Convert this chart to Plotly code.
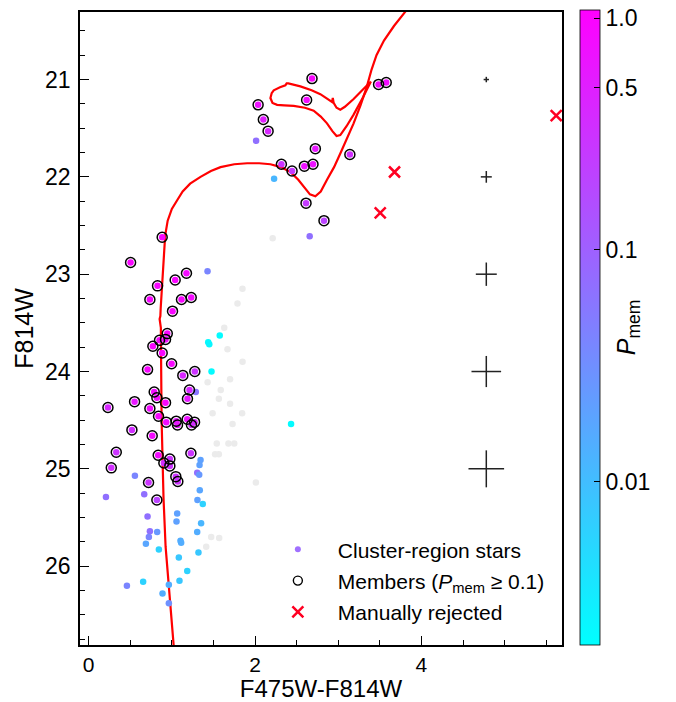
import numpy as np
import plotly.graph_objects as go

# ---------------- data ----------------
# cluster-region stars with membership probability (colour, magnitude, Pmem)
star_color = [2.685, 3.485, 3.577, 2.037, 2.62, 2.10, 2.157, 2.725, 3.14, 2.317, 2.445, 2.593, 2.697, 2.613, 2.829,
              0.884, 0.504, 1.176, 1.04, 0.828, 0.736, 1.116, 1.233, 1.008, 0.945, 0.852, 0.924, 0.772, 0.884, 0.997,
              0.708, 1.132, 1.276, 0.788, 0.82, 0.924, 1.212, 1.188, 0.552, 0.232, 0.736, 0.84, 0.933, 1.053, 1.068,
              1.185, 1.273, 1.236, 0.52, 0.764, 0.332, 0.836, 1.229, 0.976, 0.904, 0.976, 0.272, 1.048, 1.072, 0.72,
              0.82,
              2.013, 2.229, 2.657, 1.429, 1.576, 1.437, 1.45, 1.477, 1.288, 2.433, 1.345, 1.333, 1.305, 1.329, 0.556,
              1.336, 0.208, 0.668, 1.308, 1.372, 1.064, 1.056, 0.708, 0.736, 0.824, 0.724, 0.688, 0.844, 1.352, 1.305,
              1.104, 1.112, 1.32, 1.084, 1.185, 1.092, 0.655, 0.46, 0.964, 0.888, 0.964]
star_mag = [20.99, 21.05, 21.03, 21.26, 21.21, 21.41, 21.53, 21.71, 21.77, 21.87, 21.94, 21.89, 21.87, 22.27, 22.45,
            22.62, 22.88, 22.99, 23.06, 23.12, 23.26, 23.26, 23.24, 23.38, 23.61, 23.68, 23.67, 23.74, 23.81, 23.92,
            23.98, 24.04, 24.00, 24.21, 24.27, 24.32, 24.19, 24.28, 24.31, 24.37, 24.38, 24.46, 24.52, 24.51, 24.55,
            24.49, 24.52, 24.55, 24.60, 24.66, 24.83, 24.86, 24.84, 24.90, 24.94, 24.97, 24.99, 25.08, 25.13, 25.14,
            25.32,
            21.63, 22.02, 22.61, 22.97, 23.63, 23.70, 23.72, 24.00, 24.21, 24.54, 24.91, 24.96, 25.04, 25.06, 25.07,
            25.22, 25.29, 25.26, 25.32, 25.36, 25.46, 25.54, 25.49, 25.64, 25.65, 25.70, 25.77, 25.83, 25.56, 25.65,
            25.74, 25.76, 25.86, 25.91, 26.05, 26.15, 26.16, 26.20, 26.19, 26.28, 26.38]
star_pmem = [0.9, 0.8, 0.8, 0.7, 0.8, 0.5, 0.4, 0.6, 0.35, 0.3, 0.25, 0.7, 0.7, 0.25, 0.2,
             0.9, 0.9, 0.8, 0.9, 0.9, 0.9, 0.9, 0.8, 0.9, 0.9, 0.9, 0.8, 0.9, 0.9, 0.9,
             0.9, 0.4, 0.3, 0.8, 0.8, 0.9, 0.4, 0.6, 0.6, 0.4, 0.8, 0.9, 0.8, 0.6, 0.6,
             0.7, 0.4, 0.35, 0.35, 0.8, 0.3, 0.8, 0.3, 0.3, 0.35, 0.3, 0.35, 0.3, 0.3, 0.3,
             0.2,
             0.07, 0.012, 0.07, 0.04, 0.0022, 0.0022, 0.0025, 0.0022, 0.06, 0.0022, 0.02, 0.02, 0.07, 0.025, 0.04,
             0.018, 0.07, 0.07, 0.02, 0.006, 0.02, 0.02, 0.07, 0.07, 0.025, 0.04, 0.018, 0.006, 0.012, 0.015,
             0.015, 0.015, 0.008, 0.008, 0.006, 0.008, 0.006, 0.04, 0.015, 0.015, 0.03]

# stars with negligible membership (grey)
low_color = [2.212, 1.849, 1.789, 1.63, 1.669, 1.85, 1.43, 1.70, 1.588, 1.565, 1.70, 1.49, 1.845, 1.73,
             1.54, 1.68, 1.75, 1.52, 1.565, 2.01, 1.473, 1.569, 1.413]
low_mag = [22.63, 23.15, 23.30, 23.55, 23.77, 23.90, 24.11, 24.08, 24.19, 24.28, 24.33, 24.43, 24.43, 24.54,
           24.74, 24.74, 24.74, 24.85, 24.85, 25.14, 25.70, 25.71, 25.80]

# manually rejected stars
rej_color = [3.677, 3.505, 5.62]
rej_mag = [21.95, 22.37, 21.37]

# isochrone: MS + SGB + RGB
iso_color = [1.03, 1.005, 0.96, 0.925, 0.90, 0.885, 0.877, 0.872, 0.868, 0.853, 0.862, 0.866, 0.876, 0.885,
             0.90, 0.92, 0.95, 1.0, 1.064, 1.13, 1.22, 1.345, 1.47, 1.585, 1.75, 1.905, 2.05, 2.185, 2.31,
             2.425, 2.52, 2.585, 2.66, 2.725, 2.79, 2.865, 2.95, 3.025, 3.10, 3.185, 3.27, 3.345, 3.40, 3.46,
             3.55, 3.67, 3.80, 3.90]
iso_mag = [26.9, 26.65, 26.2, 25.8, 25.3, 24.9, 24.5, 24.0, 23.55, 23.46, 23.43, 23.35, 23.2, 23.0,
           22.8, 22.6, 22.45, 22.33, 22.24, 22.15, 22.07, 22.0, 21.94, 21.9, 21.87, 21.86, 21.86, 21.87, 21.9,
           21.95, 22.03, 22.1, 22.18, 22.2, 22.15, 22.03, 21.9, 21.76, 21.61, 21.45, 21.26, 21.07, 20.9, 20.75,
           20.6, 20.45, 20.31, 20.2]
# isochrone: core-He-burning loop
loop_color = [3.393, 3.30, 3.185, 3.10, 3.025, 2.98, 2.93, 2.865, 2.79, 2.705, 2.60, 2.465, 2.35, 2.265, 2.21,
              2.185, 2.20, 2.225, 2.30, 2.365, 2.38, 2.40, 2.545, 2.68, 2.785, 2.88, 2.925, 2.935, 2.945, 2.98,
              3.025, 3.08, 3.185, 3.30, 3.393]
loop_mag = [21.02, 21.18, 21.36, 21.48, 21.57, 21.58, 21.53, 21.45, 21.38, 21.32, 21.29, 21.27, 21.265, 21.26, 21.24,
            21.19, 21.14, 21.11, 21.08, 21.06, 21.04, 21.04, 21.07, 21.11, 21.15, 21.20, 21.23, 21.19, 21.24, 21.29,
            21.31, 21.28, 21.20, 21.10, 21.02]

# typical photometric errors
err_color_pos = [4.78, 4.78, 4.78, 4.78, 4.78]
err_mag_pos = [21, 22, 23, 24, 25]
err_color_sig = [0.032, 0.066, 0.126, 0.178, 0.214]
err_mag_sig = [0.028, 0.06, 0.12, 0.16, 0.19]

# colour-bar ticks
cbar_major = [1.0, 0.5, 0.1, 0.01]
cbar_major_text = ["1.0", "0.5", "0.1", "0.01"]
cbar_minor = [0.2, 0.3, 0.4, 0.6, 0.7, 0.8, 0.9,
              0.02, 0.03, 0.04, 0.05, 0.06, 0.07, 0.08, 0.09,
              0.003, 0.004, 0.005, 0.006, 0.007, 0.008, 0.009]

# ---------------- figure ----------------
FONT = "Arial, Liberation Sans, sans-serif"
LOGMIN = -2.703
LOGMAX = 0.0345
W, H = 676, 702
ML, MR, MT, MB = 80, 114, 12, 57
PW, PH = W - ML - MR, H - MT - MB
CB_LEFT_PX, CB_THICK, CB_LEN = 580, 20, 635

fig = go.Figure()

fig.add_trace(go.Scatter(x=iso_color, y=iso_mag, mode="lines",
                         line=dict(color="#ff0000", width=2.2), showlegend=False, hoverinfo="skip"))
fig.add_trace(go.Scatter(x=loop_color, y=loop_mag, mode="lines",
                         line=dict(color="#ff0000", width=2.2), showlegend=False, hoverinfo="skip"))

fig.add_trace(go.Scatter(x=low_color, y=low_mag, mode="markers",
                         marker=dict(color="#ebebeb", size=6.5, line=dict(width=0)), showlegend=False))

fig.add_trace(go.Scatter(
    x=star_color, y=star_mag, mode="markers",
    marker=dict(color=np.log10(star_pmem), cmin=LOGMIN, cmax=LOGMAX,
                colorscale=[[0, "#00ffff"], [1, "#ff00ff"]], size=6.5, line=dict(width=0),
                colorbar=dict(
                    thickness=CB_THICK, thicknessmode="pixels",
                    len=CB_LEN, lenmode="pixels",
                    x=(CB_LEFT_PX - ML) / PW, xanchor="left", xpad=0,
                    y=0, yanchor="bottom", ypad=0,
                    outlinewidth=0.8, outlinecolor="black",
                    tickmode="array", tickvals=[float(np.log10(v)) for v in cbar_major],
                    ticktext=cbar_major_text,
                    ticks="inside", ticklen=6, tickwidth=1, tickcolor="black",
                    tickfont=dict(size=23, color="black", family=FONT),
                    title=dict(text="<i>P</i><sub>mem</sub>", side="right",
                               font=dict(size=25, color="black", family=FONT)),
                )),
    showlegend=False))

mem_x = [c for c, p in zip(star_color, star_pmem) if p >= 0.1]
mem_y = [m for m, p in zip(star_mag, star_pmem) if p >= 0.1]
fig.add_trace(go.Scatter(x=mem_x, y=mem_y, mode="markers",
                         marker=dict(symbol="circle-open", size=10, color="black", line=dict(width=1.5)),
                         showlegend=False))

fig.add_trace(go.Scatter(x=rej_color, y=rej_mag, mode="markers",
                         marker=dict(symbol="x-thin", size=11, line=dict(color="#ff0022", width=2.5)),
                         showlegend=False))

fig.add_trace(go.Scatter(x=err_color_pos, y=err_mag_pos, mode="markers",
                         marker=dict(size=0.1, color="rgba(0,0,0,0)"),
                         error_x=dict(type="data", array=err_color_sig, width=0, thickness=1.5, color="#222"),
                         error_y=dict(type="data", array=err_mag_sig, width=0, thickness=1.5, color="#222"),
                         showlegend=False, hoverinfo="skip"))

# legend entries
fig.add_trace(go.Scatter(x=[None], y=[None], mode="markers", name="Cluster-region stars", legendgroup="a",
                         marker=dict(color="#a070ff", size=6)))
fig.add_trace(go.Scatter(x=[None], y=[None], mode="markers", name="Members (<i>P</i><sub>mem</sub> ≥ 0.1)",
                         legendgroup="b",
                         marker=dict(symbol="circle-open", size=9, color="black", line=dict(width=1.4))))
fig.add_trace(go.Scatter(x=[None], y=[None], mode="markers", name="Manually rejected", legendgroup="c",
                         marker=dict(symbol="x-thin", size=11, line=dict(color="#ff0022", width=2.5))))

# minor ticks of the logarithmic colour bar
cb_right = (CB_LEFT_PX + CB_THICK - ML) / PW
shapes = []
for v in cbar_minor:
    yp = (np.log10(v) - LOGMIN) / (LOGMAX - LOGMIN) * CB_LEN / PH
    shapes.append(dict(type="line", xref="paper", yref="paper",
                       x0=cb_right - 3.5 / PW, x1=cb_right, y0=yp, y1=yp,
                       line=dict(color="black", width=1)))

axis_common = dict(showline=True, linecolor="black", linewidth=1.5, mirror=True,
                   ticks="inside", ticklen=9, tickwidth=1.3, tickcolor="black",
                   showgrid=False, zeroline=False, automargin=False)

fig.update_layout(
    width=W, height=H,
    margin=dict(l=ML, r=MR, t=MT, b=MB),
    plot_bgcolor="white", paper_bgcolor="white",
    font=dict(family=FONT, color="black"),
    shapes=shapes,
    xaxis=dict(range=[-0.104, 5.69], tickmode="linear", tick0=0, dtick=2,
               minor=dict(ticks="inside", ticklen=5, tickwidth=1, tickcolor="black", dtick=0.5, tick0=0,
                          showgrid=False),
               tickfont=dict(size=21, color="black", family=FONT),
               title=dict(text="F475W-F814W", font=dict(size=24, color="black", family=FONT), standoff=9),
               **axis_common),
    yaxis=dict(range=[26.81, 20.306], tickmode="linear", tick0=21, dtick=1,
               minor=dict(ticks="inside", ticklen=5, tickwidth=1, tickcolor="black", dtick=0.25, tick0=21,
                          showgrid=False),
               ticklabelstandoff=3,
               tickfont=dict(size=23, color="black", family=FONT),
               title=dict(text="F814W", font=dict(size=25, color="black", family=FONT), standoff=4),
               **axis_common),
    legend=dict(x=0.369, y=0.183, xanchor="left", yanchor="top",
                bgcolor="rgba(0,0,0,0)", borderwidth=0, itemwidth=70,
                font=dict(size=21, color="black", family=FONT),
                traceorder="grouped", tracegroupgap=1),
)

fig.write_html("out.html")
